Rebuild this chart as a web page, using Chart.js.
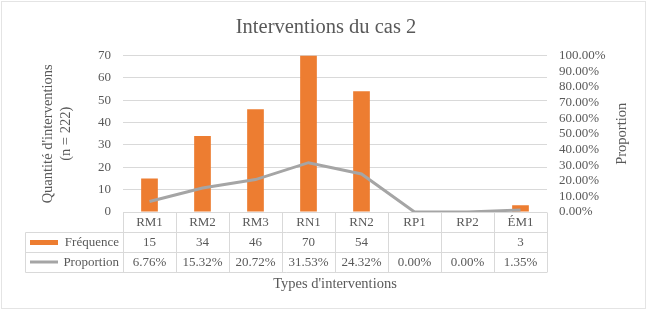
<!DOCTYPE html>
<html>
<head>
<meta charset="utf-8">
<script src="https://cdn.jsdelivr.net/npm/chart.js@4/dist/chart.umd.min.js"></script>
<style>
  html, body { margin: 0; padding: 0; background: #fff; }
  #wrap { width: 652px; height: 310px; position: relative; }
</style>
</head>
<body>
<div id="wrap"><canvas id="chart"></canvas></div>
<script>
// Interventions du cas 2 : fréquence + proportion, avec table de données sous l'axe
const CATEGORIES = ['RM1', 'RM2', 'RM3', 'RN1', 'RN2', 'RP1', 'RP2', 'ÉM1'];
const FREQUENCE = [15, 34, 46, 70, 54, null, null, 3];
const PROPORTION = [0.0676, 0.1532, 0.2072, 0.3153, 0.2432, 0, 0, 0.0135];
const FREQ_TICKS = [0, 10, 20, 30, 40, 50, 60, 70];
const PROP_TICKS = [0, 0.1, 0.2, 0.3, 0.4, 0.5, 0.6, 0.7, 0.8, 0.9, 1.0];

const SERIF = "'Liberation Serif', 'Times New Roman', serif";
const TEXT = '#595959';
const GRID = '#D9D9D9';
const ORANGE = '#ED7D31';
const GREY = '#A5A5A5';

const fmtPct = v => (v * 100).toFixed(2) + '%';

// table sous le graphique + titre de l'axe de droite + cadre
const tablePlugin = {
  id: 'dataTable',
  beforeDraw(chart) {
    const ctx = chart.ctx;
    ctx.save();
    ctx.strokeStyle = '#E4E4E4';
    ctx.lineWidth = 1;
    ctx.strokeRect(1.5, 1.5, 644, 307);
    ctx.restore();
  },
  afterDraw(chart) {
    const ctx = chart.ctx;
    const x = chart.scales.x;
    const area = chart.chartArea;
    const rowH = 20;
    const top = area.bottom;
    const labelLeft = 25.5;
    const step = (area.right - area.left) / CATEGORIES.length;

    ctx.save();
    ctx.strokeStyle = GRID;
    ctx.lineWidth = 1;
    ctx.beginPath();
    // lignes horizontales
    ctx.moveTo(area.left, Math.round(top) + 0.5);
    ctx.lineTo(area.right, Math.round(top) + 0.5);
    for (let r = 1; r <= 3; r++) {
      const y = Math.round(top + r * rowH) + 0.5;
      ctx.moveTo(labelLeft, y);
      ctx.lineTo(area.right, y);
    }
    // lignes verticales
    ctx.moveTo(labelLeft, Math.round(top + rowH) + 0.5);
    ctx.lineTo(labelLeft, Math.round(top + 3 * rowH) + 0.5);
    for (let i = 0; i <= CATEGORIES.length; i++) {
      const xx = Math.round(area.left + i * step) + 0.5;
      ctx.moveTo(xx, Math.round(top) + 0.5);
      ctx.lineTo(xx, Math.round(top + 3 * rowH) + 0.5);
    }
    ctx.stroke();

    ctx.font = '13px ' + SERIF;
    ctx.fillStyle = TEXT;
    ctx.textAlign = 'center';
    ctx.textBaseline = 'middle';
    CATEGORIES.forEach((c, i) => {
      const cx = x.getPixelForValue(i);
      ctx.fillText(c, cx, top + rowH / 2 + 1);
      if (FREQUENCE[i] !== null) ctx.fillText(String(FREQUENCE[i]), cx, top + rowH * 1.5 + 1);
      ctx.fillText(fmtPct(PROPORTION[i]), cx, top + rowH * 2.5 + 1);
    });

    // légendes des lignes
    ctx.textAlign = 'right';
    ctx.fillText('Fréquence', area.left - 4, top + rowH * 1.5 + 1);
    ctx.fillText('Proportion', area.left - 4, top + rowH * 2.5 + 1);
    ctx.fillStyle = ORANGE;
    ctx.fillRect(30, top + rowH * 1.5 - 2, 28, 5);
    ctx.strokeStyle = GREY;
    ctx.lineWidth = 3;
    ctx.beginPath();
    ctx.moveTo(30, top + rowH * 2.5);
    ctx.lineTo(58, top + rowH * 2.5);
    ctx.stroke();

    // titre axe droit, lu de bas en haut
    ctx.translate(622, (area.top + area.bottom) / 2);
    ctx.rotate(-Math.PI / 2);
    ctx.font = '14.5px ' + SERIF;
    ctx.fillStyle = TEXT;
    ctx.textAlign = 'center';
    ctx.fillText('Proportion', 0, 0);
    ctx.restore();
  }
};

new Chart(document.getElementById('chart'), {
  type: 'bar',
  data: {
    labels: CATEGORIES,
    datasets: [
      {
        type: 'line',
        label: 'Proportion',
        data: PROPORTION,
        yAxisID: 'y1',
        borderColor: GREY,
        backgroundColor: GREY,
        borderWidth: 3,
        pointRadius: 0,
        tension: 0,
        order: 0
      },
      {
        label: 'Fréquence',
        data: FREQUENCE,
        yAxisID: 'y',
        backgroundColor: ORANGE,
        barPercentage: 0.315,
        categoryPercentage: 1,
        order: 1
      }
    ]
  },
  options: {
    responsive: true,
    maintainAspectRatio: false,
    animation: false,
    layout: { padding: 0 },
    plugins: {
      legend: { display: false },
      tooltip: { enabled: false },
      title: {
        display: true,
        text: 'Interventions du cas 2',
        color: TEXT,
        font: { family: SERIF, size: 20.5, weight: 'normal', lineHeight: 1.2 },
        padding: { top: 15, bottom: 16 }
      }
    },
    scales: {
      x: {
        grid: { display: false },
        border: { display: false },
        ticks: { display: false },
        title: {
          display: true,
          text: "Types d'interventions",
          color: TEXT,
          font: { family: SERIF, size: 14.5, lineHeight: 1.2 },
          padding: { top: 0, bottom: 17 }
        },
        afterFit: s => { s.height = 98; }
      },
      y: {
        position: 'left',
        min: 0,
        max: 70,
        afterBuildTicks: s => { s.ticks = FREQ_TICKS.map(v => ({ value: v })); },
        grid: { color: GRID, drawTicks: false, lineWidth: 1 },
        border: { display: false },
        ticks: {
          color: TEXT,
          padding: 12,
          autoSkip: false,
          font: { family: SERIF, size: 13 }
        },
        title: {
          display: true,
          text: ["Quantité d'interventions", '(n = 222)'],
          color: TEXT,
          font: { family: SERIF, size: 14.5, lineHeight: 1.25 },
          padding: { top: 39, bottom: 0 }
        },
        afterFit: s => { s.width = 123; }
      },
      y1: {
        position: 'right',
        min: 0,
        max: 1,
        afterBuildTicks: s => { s.ticks = PROP_TICKS.map(v => ({ value: v })); },
        grid: { display: false, drawTicks: false },
        border: { display: false },
        ticks: {
          color: TEXT,
          padding: 12,
          autoSkip: false,
          font: { family: SERIF, size: 13 },
          callback: v => fmtPct(v)
        },
        afterFit: s => { s.width = 105; }
      }
    }
  },
  plugins: [tablePlugin]
});
</script>
</body>
</html>
